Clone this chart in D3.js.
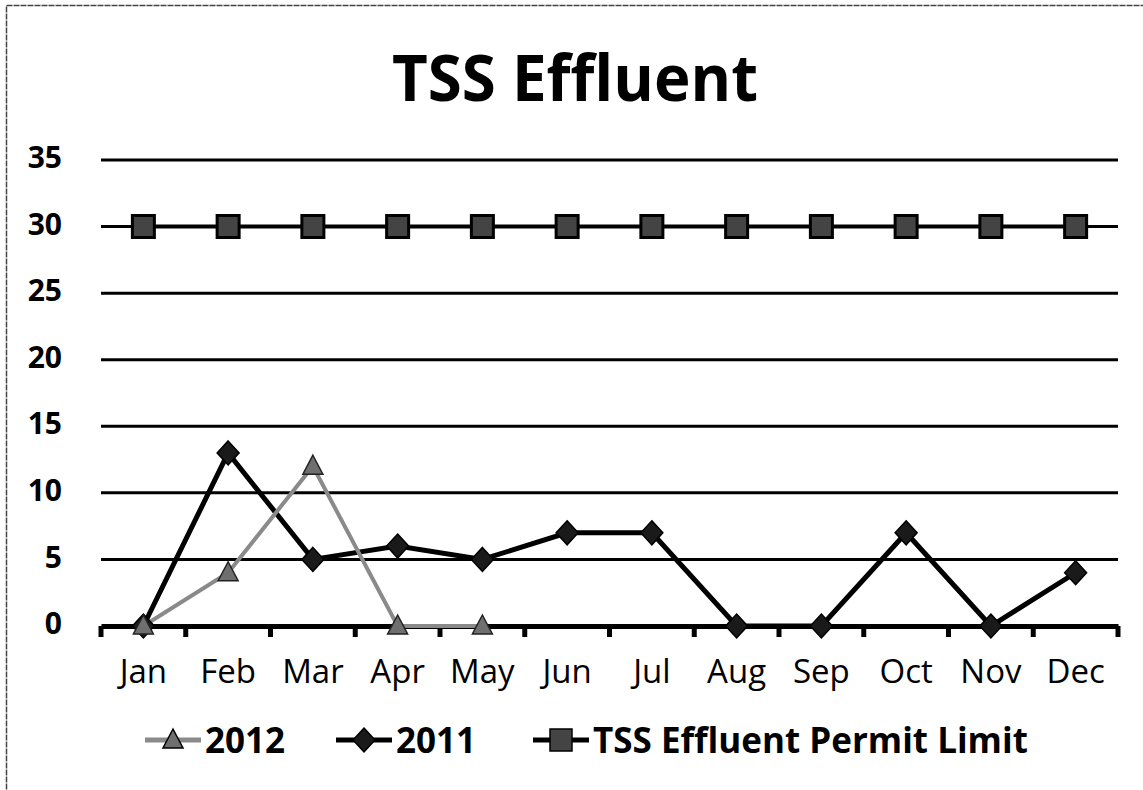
<!DOCTYPE html>
<html>
<head>
<meta charset="utf-8">
<script src="https://cdn.jsdelivr.net/npm/d3@7"></script>
<style>
  body { margin: 0; background: #fff; }
  text { font-family: "Open Sans", "Noto Sans", sans-serif; }
</style>
</head>
<body>
<div id="chart"></div>
<script>
const months = ['Jan', 'Feb', 'Mar', 'Apr', 'May', 'Jun', 'Jul', 'Aug', 'Sep', 'Oct', 'Nov', 'Dec'];
const values2012 = [0, 4, 12, 0, 0];
const values2011 = [0, 13, 5, 6, 5, 7, 7, 0, 0, 7, 0, 4];
const permitLimit = [30, 30, 30, 30, 30, 30, 30, 30, 30, 30, 30, 30];
const yTicks = [0, 5, 10, 15, 20, 25, 30, 35];

const width = 1143, height = 790;
const margin = {top: 160, right: 25, bottom: 164, left: 101};

const svg = d3.select('#chart').append('svg')
  .attr('width', width)
  .attr('height', height);

// outer chart frame
svg.append('rect')
  .attr('x', 6.5).attr('y', 5.5)
  .attr('width', width + 10).attr('height', height + 10)
  .attr('fill', 'none')
  .attr('stroke', '#444')
  .attr('stroke-width', 1.5)
  .attr('stroke-dasharray', '6,1');

const x = d3.scaleBand()
  .domain(months)
  .range([margin.left, width - margin.right]);

const y = d3.scaleLinear()
  .domain([0, 35])
  .range([height - margin.bottom, margin.top]);

const cx = m => x(m) + x.bandwidth() / 2;

// title
svg.append('text')
  .attr('x', 575).attr('y', 101)
  .attr('text-anchor', 'middle')
  .attr('textLength', 366)
  .attr('lengthAdjust', 'spacingAndGlyphs')
  .style('font-size', '64px')
  .style('font-weight', 'bold')
  .text('TSS Effluent');

// gridlines
svg.append('g')
  .selectAll('line')
  .data(yTicks.filter(d => d > 0))
  .join('line')
  .attr('x1', margin.left).attr('x2', width - margin.right)
  .attr('y1', d => y(d)).attr('y2', d => y(d))
  .attr('stroke', '#000')
  .attr('stroke-width', 3);

// y axis labels
const yAxis = svg.append('g')
  .attr('transform', `translate(62,-2)`)
  .call(d3.axisLeft(y).tickValues(yTicks).tickSize(0).tickPadding(0));
yAxis.select('.domain').remove();
yAxis.selectAll('text')
  .style('font-family', '"Open Sans", sans-serif')
  .style('font-size', '30px')
  .style('font-weight', 'bold')
  .attr('fill', '#000');

// x axis
const xAxis = svg.append('g')
  .attr('transform', `translate(0,${y(0)})`)
  .call(d3.axisBottom(x).tickSize(0).tickPadding(0));
xAxis.select('.domain')
  .attr('stroke', '#000')
  .attr('stroke-width', 5);
xAxis.selectAll('text')
  .attr('dy', null)
  .attr('y', 57)
  .style('font-family', '"Open Sans", sans-serif')
  .style('font-size', '33px')
  .attr('fill', '#000');
// tick marks between categories
const boundaries = months.map(m => x(m)).concat([x(months[months.length - 1]) + x.bandwidth()]);
svg.append('g')
  .selectAll('line')
  .data(boundaries)
  .join('line')
  .attr('x1', d => d).attr('x2', d => d)
  .attr('y1', y(0)).attr('y2', y(0) + 11)
  .attr('stroke', '#000')
  .attr('stroke-width', 5);

const line = d3.line()
  .x((d, i) => cx(months[i]))
  .y(d => y(d));

// permit limit
svg.append('path')
  .datum(permitLimit)
  .attr('d', line)
  .attr('fill', 'none')
  .attr('stroke', '#000')
  .attr('stroke-width', 4);

// 2011
svg.append('path')
  .datum(values2011)
  .attr('d', line)
  .attr('fill', 'none')
  .attr('stroke', '#000')
  .attr('stroke-width', 5);

// 2012
svg.append('path')
  .datum(values2012)
  .attr('d', line)
  .attr('fill', 'none')
  .attr('stroke', '#8a8a8a')
  .attr('stroke-width', 4);

// marker shapes
const squarePath = 'M-11,-11H11V11H-11Z';
const diamondPath = 'M0,-12L11,0L0,12L-11,0Z';
const triPath = 'M0,-11L10,8H-10Z';

function drawMarkers(data, shape, fill, stroke, sw) {
  svg.append('g')
    .selectAll('path')
    .data(data)
    .join('path')
    .attr('d', shape)
    .attr('transform', (d, i) => `translate(${cx(months[i])},${y(d)})`)
    .attr('fill', fill)
    .attr('stroke', stroke)
    .attr('stroke-width', sw);
}
drawMarkers(permitLimit, squarePath, '#444', '#000', 3);
drawMarkers(values2011, diamondPath, '#1a1a1a', '#000', 1.5);
drawMarkers(values2012, triPath, '#6f6f6f', '#222', 1.5);

// legend
const legendItems = [
  {label: '2012', color: '#8a8a8a', shape: triPath, fill: '#6f6f6f', x: 173},
  {label: '2011', color: '#000', shape: diamondPath, fill: '#1a1a1a', x: 364},
  {label: 'TSS Effluent Permit Limit', color: '#000', shape: squarePath, fill: '#444', x: 561}
];
const legend = svg.append('g').attr('transform', 'translate(0,740)');
legendItems.forEach(it => {
  const g = legend.append('g').attr('transform', `translate(${it.x},0)`);
  g.append('line')
    .attr('x1', -28).attr('x2', 28)
    .attr('y1', 0).attr('y2', 0)
    .attr('stroke', it.color)
    .attr('stroke-width', 5);
  g.append('path')
    .attr('d', it.shape)
    .attr('fill', it.fill)
    .attr('stroke', '#000')
    .attr('stroke-width', 1.5);
  g.append('text')
    .attr('x', 32).attr('y', 13)
    .style('font-size', '35px')
    .style('font-weight', 'bold')
    .text(it.label);
});
</script>
</body>
</html>
